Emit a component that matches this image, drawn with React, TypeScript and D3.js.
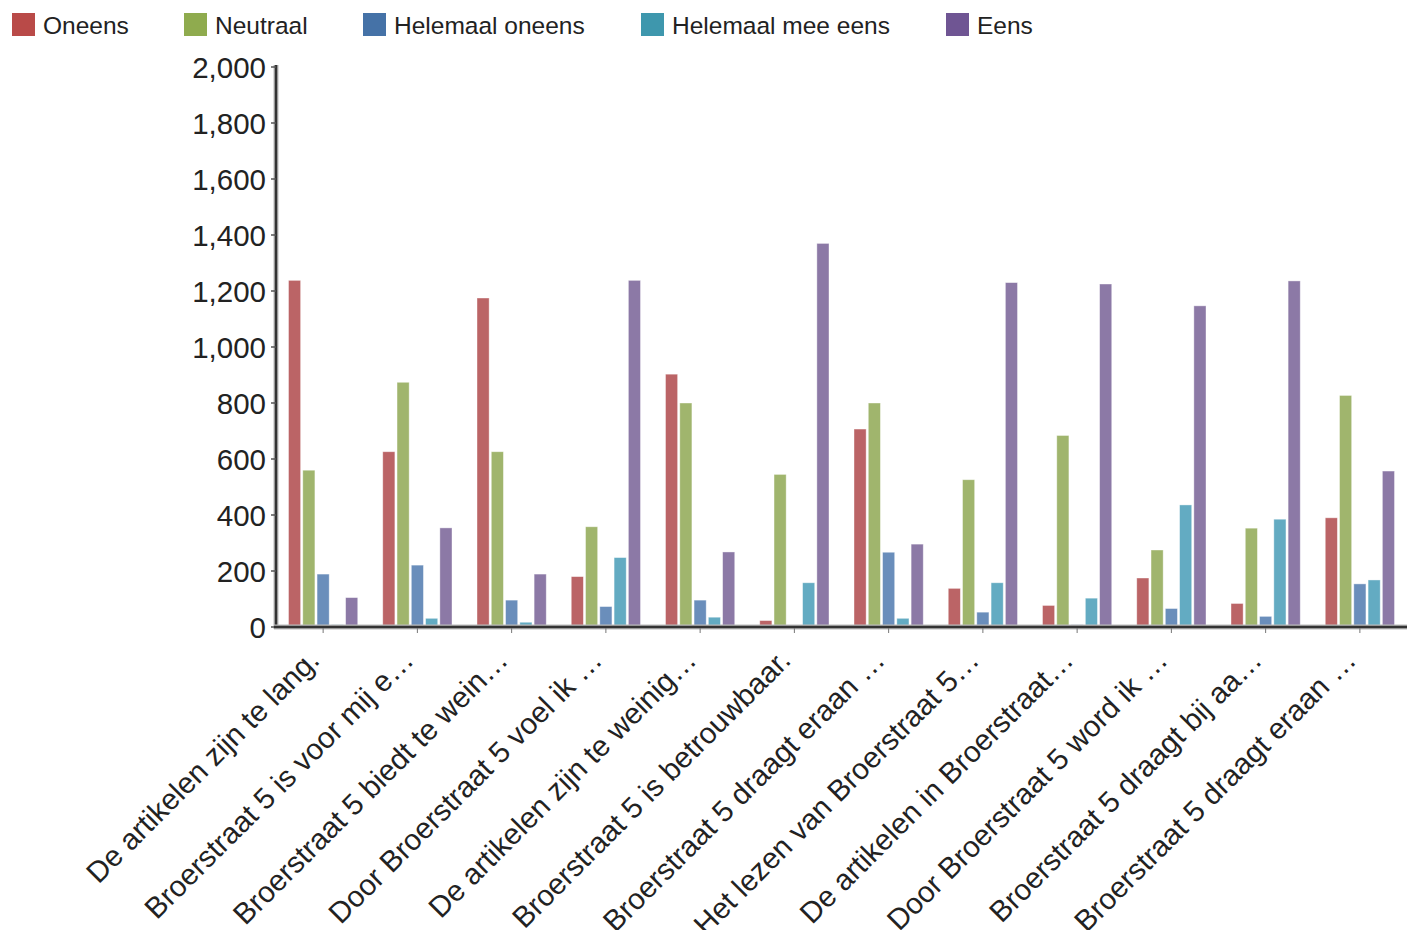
import React from "react";
import * as d3 from "d3";

const categories = [
  "De artikelen zijn te lang.",
  "Broerstraat 5 is voor mij e…",
  "Broerstraat 5 biedt te wein…",
  "Door Broerstraat 5 voel ik …",
  "De artikelen zijn te weinig…",
  "Broerstraat 5 is betrouwbaar.",
  "Broerstraat 5 draagt eraan …",
  "Het lezen van Broerstraat 5…",
  "De artikelen in Broerstraat…",
  "Door Broerstraat 5 word ik …",
  "Broerstraat 5 draagt bij aa…",
  "Broerstraat 5 draagt eraan …",
];

const seriesNames = ["Oneens", "Neutraal", "Helemaal oneens", "Helemaal mee eens", "Eens"];

const oneens = [1238, 626, 1175, 180, 903, 23, 707, 138, 77, 175, 84, 390];
const neutraal = [560, 874, 626, 358, 800, 545, 800, 526, 684, 275, 353, 827];
const helemaalOneens = [189, 221, 96, 73, 96, 0, 267, 53, 8, 66, 38, 154];
const helemaalMeeEens = [8, 31, 17, 248, 35, 158, 31, 158, 103, 436, 385, 168];
const eens = [105, 354, 189, 1238, 268, 1370, 296, 1230, 1225, 1147, 1236, 557];

const yTicks = [0, 200, 400, 600, 800, 1000, 1200, 1400, 1600, 1800, 2000];

const legendColors = ["#b94a48", "#8fab4e", "#4572a7", "#3e97ad", "#6f5593"];
const barColors = ["#bb6466", "#a0b56d", "#6a8ebb", "#63abc2", "#8c79a6"];

const W = 1407;
const H = 930;
const FONT = "'Liberation Sans', Arial, Helvetica, sans-serif";

export default function App() {
  const seriesValues = [oneens, neutraal, helemaalOneens, helemaalMeeEens, eens];
  const idx = categories.map((_, i) => String(i));
  const x0 = d3.scaleBand<string>().domain(idx).range([276, 1407]).padding(0);
  const bw = x0.bandwidth();
  const x1 = d3
    .scaleBand<string>()
    .domain(seriesNames)
    .range([12.5, bw - 12.5])
    .paddingInner(0.15);
  const y = d3.scaleLinear().domain([0, 2000]).range([627, 67]);

  const legendWidths = [85, 92, 191, 218, 55];
  let lx = 12;
  const legendItems = seriesNames.map((name, i) => {
    const item = { name, x: lx, color: legendColors[i] };
    lx += 23 + 8 + legendWidths[i] + 56;
    return item;
  });

  return (
    <div style={{ position: "absolute", left: 0, top: 0 }}>
      <svg width={W} height={H} style={{ display: "block", fontFamily: FONT }}>
        <rect x={0} y={0} width={W} height={H} fill="#ffffff" />
        {legendItems.map((it) => (
          <g key={it.name}>
            <rect x={it.x} y={13} width={23} height={23} fill={it.color} />
            <text x={it.x + 31} y={25} fontSize={24.5} fill="#222" dominantBaseline="central">
              {it.name}
            </text>
          </g>
        ))}
        {categories.map((c, ci) => (
          <g key={ci} transform={`translate(${x0(String(ci))},0)`}>
            {seriesNames.map((s, si) => {
              const v = seriesValues[si][ci];
              if (v <= 0) return null;
              return (
                <rect
                  key={s}
                  x={x1(s)}
                  y={y(v)}
                  width={x1.bandwidth()}
                  height={y(0) - y(v)}
                  fill={barColors[si]}
                  stroke="#ffffff"
                  strokeOpacity={0.5}
                  strokeWidth={0.8}
                />
              );
            })}
          </g>
        ))}
        <line x1={276} x2={276} y1={65} y2={629} stroke="#bbb" strokeWidth={5} />
        <line x1={276} x2={276} y1={65} y2={629} stroke="#333" strokeWidth={2.5} />
        {yTicks.map((t) => (
          <g key={t} transform={`translate(0,${y(t)})`}>
            <line x1={271} x2={276} stroke="#555" strokeWidth={1.5} />
            <text x={266} y={0} textAnchor="end" dominantBaseline="central" fontSize={29.5} fill="#222">
              {d3.format(",")(t)}
            </text>
          </g>
        ))}
        <line x1={274} x2={1407} y1={627} y2={627} stroke="#bbb" strokeWidth={5} />
        <line x1={274} x2={1407} y1={627} y2={627} stroke="#333" strokeWidth={2.5} />
        {categories.map((c, ci) => {
          const cx = (x0(String(ci)) as number) + bw / 2;
          return (
            <g key={ci}>
              <line x1={cx} x2={cx} y1={628} y2={633} stroke="#777" strokeWidth={1} />
              <text
                transform={`translate(${cx - 2},662) rotate(-45)`}
                textAnchor="end"
                fontSize={29.5}
                fill="#222"
              >
                {c}
              </text>
            </g>
          );
        })}
      </svg>
    </div>
  );
}
